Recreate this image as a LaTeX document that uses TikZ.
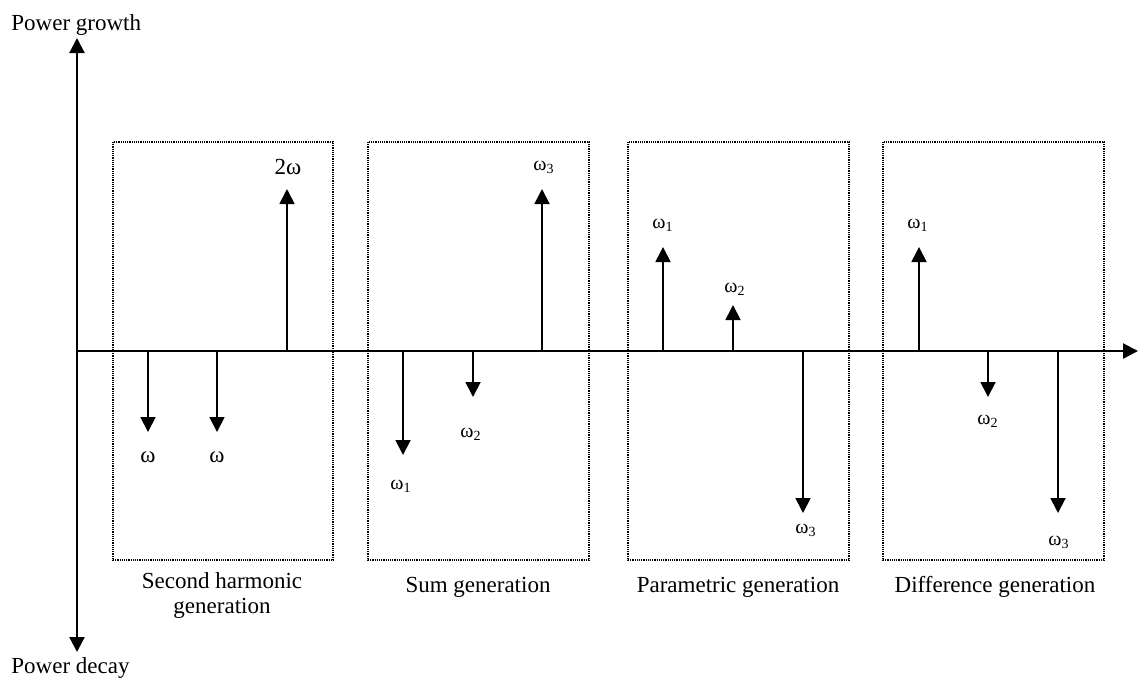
\documentclass[tikz,border=0pt]{standalone}
\usepackage{fontspec}
\setmainfont{Liberation Serif}
\usetikzlibrary{arrows.meta}

\begin{document}
\begin{tikzpicture}[x=0.5pt,y=-0.5pt]
	\tikzstyle{axe}=[line width=1.1pt, -{Triangle[width=7.5pt,length=7.5pt]}]
	\tikzstyle{pic}=[line width=0.9pt, -{Triangle[width=7.5pt,length=7.5pt]}]
	\tikzstyle{boite}=[line width=1pt, dash pattern=on 0.6pt off 0.5pt]
	\tikzstyle{titre}=[font=\fontsize{11.5}{12.5}\selectfont, align=center, inner sep=0pt]
	\tikzstyle{freq}=[font=\fontsize{10}{12}\selectfont, inner sep=0pt]

	\useasboundingbox (0,0) rectangle (1138,677);

	% AXES
	\coordinate (O) at (77,351);
	\coordinate (Haut) at (77,38);
	\coordinate (Bas) at (77,652);
	\coordinate (Droite) at (1138,351);
	\draw[axe] (O) -- (Haut);
	\draw[axe] (O) -- (Bas);
	\draw[axe] (O) -- (Droite);
	\node[titre, anchor=west] (croissance) at (11,25) {Power growth};
	\node[titre, anchor=west] (decroissance) at (11,668) {Power decay};

	% BOITES
	\draw[boite] (113,142) rectangle (333,560);
	\draw[boite] (368,142) rectangle (589,560);
	\draw[boite] (628,142) rectangle (849,560);
	\draw[boite] (883,142) rectangle (1104,560);

	\node[titre] (shg) at (222,595) {Second harmonic\\generation};
	\node[titre] (sfg) at (478,587) {Sum generation};
	\node[titre] (opg) at (738,587) {Parametric generation};
	\node[titre] (dfg) at (995,587) {Difference generation};

	% SECOND HARMONIQUE
	\coordinate (A1) at (148,351); \coordinate (A1b) at (148,432);
	\coordinate (A2) at (217,351); \coordinate (A2b) at (217,432);
	\coordinate (A3) at (287,351); \coordinate (A3b) at (287,189);
	\draw[pic] (A1) -- (A1b);
	\draw[pic] (A2) -- (A2b);
	\draw[pic] (A3) -- (A3b);
	\node[freq, font=\fontsize{11.5}{13}\selectfont] (a1) at (148,457) {ω};
	\node[freq, font=\fontsize{11.5}{13}\selectfont] (a2) at (217,457) {ω};
	\node[freq, font=\fontsize{11.5}{13}\selectfont] (a3) at (288,167) {2ω};

	% SOMME
	\coordinate (B1) at (403,351); \coordinate (B1b) at (403,455);
	\coordinate (B2) at (473,351); \coordinate (B2b) at (473,397);
	\coordinate (B3) at (542,351); \coordinate (B3b) at (542,189);
	\draw[pic] (B1) -- (B1b);
	\draw[pic] (B2) -- (B2b);
	\draw[pic] (B3) -- (B3b);
	\node[freq] (b1) at (401,486) {ω\textsubscript{1}};
	\node[freq] (b2) at (471,434) {ω\textsubscript{2}};
	\node[freq] (b3) at (544,167) {ω\textsubscript{3}};

	% PARAMETRIQUE
	\coordinate (C1) at (663,351); \coordinate (C1b) at (663,247);
	\coordinate (C2) at (733,351); \coordinate (C2b) at (733,305);
	\coordinate (C3) at (803,351); \coordinate (C3b) at (803,513);
	\draw[pic] (C1) -- (C1b);
	\draw[pic] (C2) -- (C2b);
	\draw[pic] (C3) -- (C3b);
	\node[freq] (c1) at (663,225) {ω\textsubscript{1}};
	\node[freq] (c2) at (735,289) {ω\textsubscript{2}};
	\node[freq] (c3) at (806,530) {ω\textsubscript{3}};

	% DIFFERENCE
	\coordinate (D1) at (919,351); \coordinate (D1b) at (919,247);
	\coordinate (D2) at (988,351); \coordinate (D2b) at (988,397);
	\coordinate (D3) at (1058,351); \coordinate (D3b) at (1058,513);
	\draw[pic] (D1) -- (D1b);
	\draw[pic] (D2) -- (D2b);
	\draw[pic] (D3) -- (D3b);
	\node[freq] (d1) at (918,225) {ω\textsubscript{1}};
	\node[freq] (d2) at (988,421) {ω\textsubscript{2}};
	\node[freq] (d3) at (1059,542) {ω\textsubscript{3}};
\end{tikzpicture}
\end{document}
